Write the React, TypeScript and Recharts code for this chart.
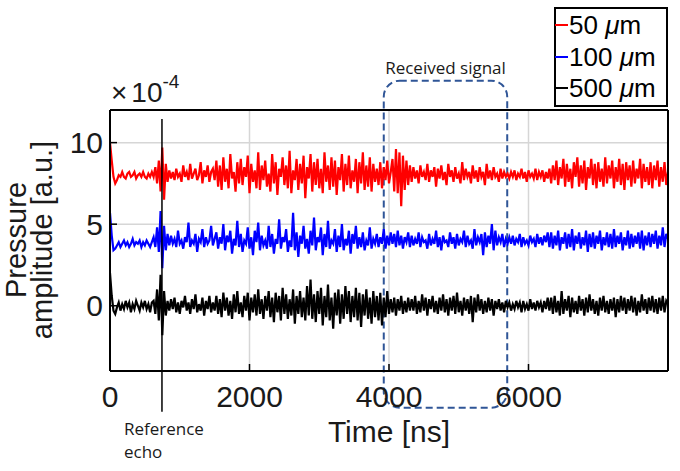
import React from 'react';
import {
  LineChart, Line, XAxis, YAxis, CartesianGrid, ReferenceLine, ReferenceArea, Legend,
} from 'recharts';

// time step of the sampled traces (ns)
const STEP_NS = 25;

const xTicks = [0, 2000, 4000, 6000];
const yTicks = [0, 5, 10];
const seriesNames = ['50 μm', '100 μm', '500 μm'];
const seriesColors = ['#ff0000', '#0000ff', '#000000'];

// 50 µm trace (×10^-4)
const red = [
  10.0, 8.9, 7.9, 7.5,
  7.7, 8.0, 7.9, 8.2, 7.9, 7.8, 8.1, 8.2, 7.9, 8.0, 8.2, 7.8, 8.0, 8.1, 7.9, 8.2, 7.9, 7.8, 8.1, 7.9, 8.2,
  7.9, 8.5, 7.5, 8.9, 7.0, 9.7, 6.5, 8.7, 7.6,
  8.3, 7.8, 8.2, 7.7, 8.4, 7.9, 8.1, 7.6, 8.6, 7.9, 8.2, 7.7, 8.7, 7.8, 8.1, 8.4, 7.7, 8.0, 8.8, 7.5, 8.3, 7.9, 8.6, 7.6, 8.2, 8.4, 7.7,
  8.9, 7.3, 8.6, 7.1, 9.1, 7.6, 8.4, 7.2, 9.3, 7.8, 8.2, 7.0, 8.8, 7.5, 9.0, 7.4, 8.5, 7.9, 9.2, 6.9,
  8.7, 7.6, 8.3, 7.2, 9.4, 7.1, 8.6, 7.7, 8.9, 7.3, 8.1, 7.0, 9.3, 7.5, 8.8, 6.8, 8.4, 7.9, 9.1, 7.4,
  8.6, 7.2, 9.5, 6.9, 8.3, 7.7, 9.0, 7.1, 8.7, 7.5, 9.2, 6.6, 8.5, 7.8, 9.3, 7.0, 8.8, 7.4, 9.0, 7.2,
  8.4, 6.9, 9.4, 7.6, 8.6, 7.1, 9.1, 7.3, 8.9, 6.8, 8.5, 7.7, 9.3, 7.0, 8.7, 7.4, 9.2, 7.2, 8.3, 7.6,
  9.0, 6.9, 8.8, 7.5, 9.4, 7.1, 8.6, 7.3, 9.1, 7.0, 8.7, 7.6,
  8.4, 7.4, 8.8, 7.2, 8.5, 7.7, 8.9, 7.5, 8.2,
  9.0, 7.0, 9.6, 6.9, 9.4, 6.1, 9.2, 7.1, 8.9, 7.4, 8.6,
  7.6, 8.5, 7.8, 8.3, 7.5, 8.6, 7.9, 8.2, 7.7, 8.7, 7.6, 8.3, 7.9, 8.5, 7.3, 8.4, 7.8, 8.6, 7.7, 8.2,
  7.4, 8.7, 7.9, 8.3, 7.6, 8.5, 7.8, 8.1, 7.5, 8.8, 7.7, 8.4, 7.9, 8.2, 7.5, 8.6, 7.8, 8.3, 7.6, 8.5,
  7.9, 8.2, 7.4, 8.7, 7.8, 8.3, 7.7, 8.5, 7.9, 8.1, 7.6, 8.4, 7.8, 8.2, 7.9, 8.1,
  7.8, 8.2, 7.9, 8.3, 7.7, 8.1, 7.9, 8.4, 7.8, 8.2, 7.6, 8.3, 7.9, 8.1, 7.8, 8.4, 7.7, 8.2, 7.9, 8.3, 7.6, 8.2, 7.8, 8.4,
  7.5, 8.6, 7.7, 8.9, 7.4, 8.5, 7.8, 9.0, 7.3, 8.7, 7.6, 8.4, 7.2, 8.8, 7.9, 9.1, 7.3, 8.6, 7.5, 8.9,
  7.1, 8.5, 7.8, 9.0, 7.4, 8.7, 7.2, 8.8, 7.6, 8.4, 7.3, 9.1, 7.5, 8.6, 7.8, 8.9, 7.2, 8.5, 7.6, 9.0,
  7.4, 8.7, 7.1, 8.8, 7.7, 8.6, 7.3, 8.9, 7.5, 8.4, 7.8, 9.0, 7.2, 8.7, 7.6, 8.5, 7.4, 8.8, 7.2, 8.6,
  7.7, 8.9, 7.3, 8.5, 7.6, 8.8, 7.4, 8.2,
];

// 100 µm trace (×10^-4)
const blue = [
  5.7, 4.3, 3.4, 3.5,
  3.7, 3.9, 3.6, 3.8, 4.0, 3.7, 3.9, 3.6, 3.8, 4.1, 3.7, 3.9, 3.8, 4.0, 3.6, 3.9, 3.7, 4.0, 3.8, 3.6, 3.9,
  4.2, 3.6, 4.8, 3.3, 5.8, 2.3, 4.9, 3.4, 4.4,
  3.7, 4.3, 3.8, 4.1, 3.6, 4.6, 3.8, 4.0, 3.5, 4.2, 3.9, 5.1, 3.6, 4.0, 3.8, 4.4, 3.3, 4.1, 3.9, 4.7, 3.6, 4.2, 3.8, 4.0, 4.9, 3.7, 4.1,
  4.5, 3.5, 4.2, 3.8, 5.0, 3.4, 4.3, 3.9, 4.6, 3.2, 4.1, 3.7, 5.2, 3.6, 4.4, 3.3, 4.0, 3.8, 4.8, 3.5,
  4.2, 3.1, 4.6, 3.9, 5.1, 3.4, 4.3, 3.7, 4.0, 3.5, 4.9, 3.6, 4.4, 3.2, 4.1, 3.8, 5.3, 3.5, 4.2, 3.9,
  4.7, 3.3, 4.0, 3.6, 5.7, 3.4, 4.5, 3.0, 4.3, 3.8, 4.9, 3.5, 4.1, 3.2, 4.6, 3.7, 5.4, 3.4, 4.2, 3.9,
  4.8, 3.1, 4.4, 3.6, 5.2, 3.5, 4.0, 3.8, 4.7, 3.3, 4.3, 3.6, 5.0, 3.4, 4.1, 3.7, 4.6, 3.2, 4.4, 3.8,
  4.9, 3.5, 4.2, 3.6, 4.5, 3.4, 4.0, 3.7, 4.8, 3.5, 4.1, 3.8,
  4.4, 3.6, 4.2, 3.8, 4.7, 3.5, 4.3, 3.7, 4.5,
  3.8, 4.4, 3.6, 4.6, 3.7, 4.3, 3.5, 4.2, 3.9, 4.5, 3.6,
  4.3, 3.7, 4.1, 3.8, 4.5, 3.6, 4.2, 3.9, 4.0, 3.5, 4.4, 3.7, 4.1, 3.8, 4.6, 3.6, 4.2, 3.4, 4.3, 3.9,
  4.0, 3.6, 4.5, 3.8, 4.2, 3.5, 4.4, 3.7, 4.1, 3.9, 4.6, 3.6, 4.3, 3.8, 4.0, 3.5, 4.7, 3.7, 4.2, 3.9,
  4.4, 3.1, 4.5, 3.6, 4.3, 3.8, 5.0, 3.4, 4.6, 3.7, 4.2, 3.9, 4.4, 3.6, 4.1, 3.8,
  4.2, 3.8, 4.3, 3.7, 4.1, 3.9, 4.4, 3.6, 4.2, 3.8, 4.0, 3.7, 4.3, 3.9, 4.1, 3.6, 4.4, 3.8, 4.2, 3.7, 4.3, 3.9, 4.5, 3.6,
  4.5, 3.5, 4.3, 3.7, 4.6, 3.4, 4.2, 3.8, 4.5, 3.5, 4.4, 3.6, 4.7, 3.4, 4.3, 3.8, 4.5, 3.5, 4.2, 3.7,
  4.6, 3.3, 4.4, 3.6, 4.5, 3.5, 4.3, 3.8, 4.6, 3.4, 4.2, 3.7, 4.5, 3.6, 4.4, 3.5, 4.7, 3.6, 4.3, 3.8,
  4.5, 3.4, 4.2, 3.7, 4.6, 3.5, 4.4, 3.6, 4.3, 3.8, 4.5, 3.5, 4.6, 3.4, 4.3, 3.7, 4.5, 3.6, 4.4, 3.8,
  4.6, 3.5, 4.3, 3.7, 4.8, 3.6, 4.4, 4.1,
];

// 500 µm trace (×10^-4)
const black = [
  2.0, 0.6, -0.3, -0.5,
  -0.1, 0.2, -0.3, 0.1, -0.2, 0.3, -0.1, 0.2, -0.4, 0.1, -0.2, 0.3, 0.0, -0.3, 0.2, -0.1, 0.3, -0.2, 0.1, -0.4, 0.2,
  0.3, -0.5, 1.0, -0.9, 1.9, -1.8, 0.9, -0.6, 0.3,
  -0.3, 0.4, -0.2, 0.5, -0.4, 0.2, -0.5, 0.3, -0.1, 0.6, -0.3, 0.2, -0.5, 0.4, -0.2, 0.7, -0.4, 0.1, -0.3, 0.5, -0.6, 0.3, -0.2, 0.6, -0.4, 0.2, -0.3,
  0.6, -0.5, 0.4, -0.7, 0.8, -0.3, 0.5, -0.6, 0.3, -0.8, 0.7, -0.4, 0.9, -0.5, 0.2, -0.7, 0.6, -0.3, 0.8, -0.9,
  0.5, -0.4, 0.7, -0.6, 1.0, -0.5, 0.4, -0.8, 0.6, -0.3, 0.9, -0.7, 0.5, -1.0, 0.8, -0.4, 0.6, -0.9, 1.1, -0.5,
  0.7, -0.8, 0.4, -0.6, 1.0, -1.1, 0.6, -0.5, 0.9, -0.7, 0.5, -0.9, 1.2, -0.6, 1.6, -0.8, 0.7, -1.0, 0.9, -0.5,
  1.1, -1.2, 0.6, -0.7, 1.3, -0.9, 0.5, -1.4, 0.8, -0.6, 1.0, -1.1, 0.7, -0.8, 1.2, -0.5, 0.9, -1.0, 0.6, -0.7,
  1.1, -0.9, 0.8, -1.3, 0.7, -0.6, 1.0, -0.8, 0.5, -1.1, 0.9, -0.7,
  0.6, -0.9, 0.8, -1.2, 0.5, -0.7, 0.9, -0.5, 0.4,
  -0.4, 0.5, -0.6, 0.4, -0.3, 0.6, -0.5, 0.3, -0.4, 0.5, -0.3,
  0.4, -0.3, 0.6, -0.5, 0.3, -0.4, 0.7, -0.3, 0.5, -0.6, 0.4, -0.2, 0.6, -0.4, 0.3, -0.5, 0.5, -0.3, 0.7, -0.4,
  0.4, -0.6, 0.5, -0.3, 0.6, -0.5, 0.8, -0.4, 0.3, -0.6, 0.5, -0.3, 0.4, -0.5, 0.6, -1.0, 0.5, -0.4, 0.7, -0.3,
  0.4, -0.5, 0.3, -0.4, 0.5, -0.3, 0.4, -0.6, 0.3, -0.2, 0.4, -0.3, 0.2, -0.4, 0.3, -0.1,
  0.2, -0.3, 0.1, -0.2, 0.3, -0.1, 0.2, -0.4, 0.3, -0.2, 0.1, -0.3, 0.4, -0.2, 0.2, -0.3, 0.3, -0.1, 0.2, -0.4, 0.3, -0.2, 0.5, -0.3,
  0.5, -0.5, 0.6, -0.4, 0.3, -0.6, 0.9, -0.5, 0.4, -0.3, 0.6, -0.7, 0.5, -0.4, 0.3, -0.5, 0.6, -0.3, 0.4, -0.6,
  0.5, -0.4, 0.7, -0.3, 0.4, -0.5, 0.3, -0.6, 0.5, -0.3, 0.6, -0.4, 0.3, -0.5, 0.4, -0.3, 0.5, -0.7, 0.4, -0.4,
  0.6, -0.3, 0.5, -0.5, 0.4, -0.3, 0.6, -0.4, 0.5, -0.6, 0.3, -0.4, 0.7, -0.3, 0.4, -0.5, 0.5, -0.3, 0.6, -0.4,
  0.4, -0.5, 0.5, -0.3, 0.6, -0.4, 0.3, 0.1,
];

// annotations
const refEchoTime = 745;
const refEchoRange = [11.45, -6.5];
const receivedBox = { x1: 3925, x2: 5695, y1: -6.25, y2: 13.8 };

const data = red.map((v, i) => ({ t: i * STEP_NS, s50: v, s100: blue[i], s500: black[i] }));
const keys = ['s50', 's100', 's500'];

const NUM_FONT = '"Liberation Sans", Arial, Helvetica, sans-serif';
const NOTE_FONT = '"Open Sans", "Noto Sans", sans-serif';

const RoundedBox = (p: any) => (
  <rect
    x={p.x}
    y={p.y}
    width={p.width}
    height={p.height}
    rx={16}
    ry={16}
    fill="none"
    stroke="#2f5597"
    strokeWidth={2}
    strokeDasharray="7 4"
  />
);

const LegendBox = (props: any) => {
  const payload = [...(props.payload || [])].sort(
    (a: any, b: any) => seriesNames.indexOf(String(a.value)) - seriesNames.indexOf(String(b.value)),
  );
  const rowTops = [1, 33, 64];
  return (
    <div
      style={{
        position: 'relative',
        width: 114,
        height: 100,
        border: '2px solid #000',
        boxSizing: 'border-box',
        background: '#fff',
        fontFamily: NUM_FONT,
        fontSize: 26,
        color: '#000',
      }}
    >
      {payload.map((e: any, i: number) => {
        const name = String(e.value);
        const [num] = name.split(' ');
        return (
          <div
            key={name}
            style={{ position: 'absolute', left: -1, top: rowTops[i], height: 30, display: 'flex', alignItems: 'center', whiteSpace: 'nowrap' }}
          >
            <span style={{ display: 'inline-block', width: 13, height: 2, background: e.color }} />
            <span style={{ lineHeight: '30px', marginLeft: 1 }}>
              {num} <i>μ</i>m
            </span>
          </div>
        );
      })}
    </div>
  );
};

export default function App() {
  return (
    <div style={{ position: 'absolute', left: 0, top: 0, width: 680, height: 471, background: '#fff' }}>
      <LineChart width={680} height={471} data={data} margin={{ top: 108, right: 10, bottom: 0, left: 0 }}>
        <CartesianGrid stroke="#d6d6d6" strokeWidth={1.5} />
        <XAxis
          dataKey="t"
          type="number"
          domain={[0, 8000]}
          ticks={xTicks}
          allowDataOverflow
          height={100}
          tickSize={-7}
          tickMargin={22}
          axisLine={{ stroke: '#000', strokeWidth: 2 }}
          tickLine={{ stroke: '#000', strokeWidth: 1.5 }}
          tick={{ fill: '#1a1a1a', fontSize: 30, fontFamily: NUM_FONT }}
          label={{ value: 'Time [ns]', position: 'insideBottom', offset: 29, fill: '#1a1a1a', fontSize: 30, fontFamily: NUM_FONT }}
        />
        <XAxis
          xAxisId="top"
          orientation="top"
          type="number"
          domain={[0, 8000]}
          ticks={xTicks}
          allowDataOverflow
          height={2}
          tickSize={-7}
          tick={false}
          axisLine={{ stroke: '#000', strokeWidth: 2 }}
          tickLine={{ stroke: '#000', strokeWidth: 1.5 }}
        />
        <YAxis
          type="number"
          domain={[-4, 12]}
          ticks={yTicks}
          allowDataOverflow
          width={110}
          tickSize={-7}
          tickMargin={14}
          axisLine={{ stroke: '#000', strokeWidth: 2 }}
          tickLine={{ stroke: '#000', strokeWidth: 1.5 }}
          tick={{ fill: '#1a1a1a', fontSize: 30, fontFamily: NUM_FONT }}
        />
        <YAxis
          yAxisId="right"
          orientation="right"
          type="number"
          domain={[-4, 12]}
          ticks={yTicks}
          allowDataOverflow
          width={2}
          tickSize={-7}
          tick={false}
          axisLine={{ stroke: '#000', strokeWidth: 2 }}
          tickLine={{ stroke: '#000', strokeWidth: 1.5 }}
        />
        {keys.map((k, i) => (
          <Line
            key={k}
            dataKey={k}
            name={seriesNames[i]}
            type="linear"
            stroke={seriesColors[i]}
            strokeWidth={2.2}
            dot={false}
            isAnimationActive={false}
          />
        ))}
        <ReferenceLine
          segment={[{ x: refEchoTime, y: refEchoRange[0] }, { x: refEchoTime, y: refEchoRange[1] }]}
          stroke="#000"
          strokeWidth={1.5}
          ifOverflow="visible"
        />
        <ReferenceArea
          x1={receivedBox.x1}
          x2={receivedBox.x2}
          y1={receivedBox.y1}
          y2={receivedBox.y2}
          ifOverflow="visible"
          shape={RoundedBox}
          label={{ value: 'Received signal', position: 'top', offset: 7, fill: '#1a1a1a', fontSize: 17, fontFamily: NOTE_FONT }}
        />
        <Legend
          layout="horizontal"
          verticalAlign="middle"
          align="center"
          content={LegendBox}
          wrapperStyle={{ left: 554, top: 7, width: 114, height: 100 }}
        />
      </LineChart>
      <svg width={680} height={471} style={{ position: 'absolute', left: 0, top: 0, pointerEvents: 'none' }}>
        <text x={111} y={102} fontSize={28} fontFamily={NUM_FONT} fill="#1a1a1a">
          ×<tspan dx={4}>10</tspan>
          <tspan fontSize={19} dy={-14}>-4</tspan>
        </text>
        <text transform="translate(26,240) rotate(-90)" textAnchor="middle" fontSize={29} fontFamily={NUM_FONT} fill="#1a1a1a">
          Pressure
        </text>
        <text transform="translate(52,240) rotate(-90)" textAnchor="middle" fontSize={29} fontFamily={NUM_FONT} fill="#1a1a1a">
          amplitude [a.u.]
        </text>
        <text x={124} y={435} fontSize={17} fontFamily={NOTE_FONT} fill="#1a1a1a">Reference</text>
        <text x={124} y={458} fontSize={17} fontFamily={NOTE_FONT} fill="#1a1a1a">echo</text>
      </svg>
    </div>
  );
}
